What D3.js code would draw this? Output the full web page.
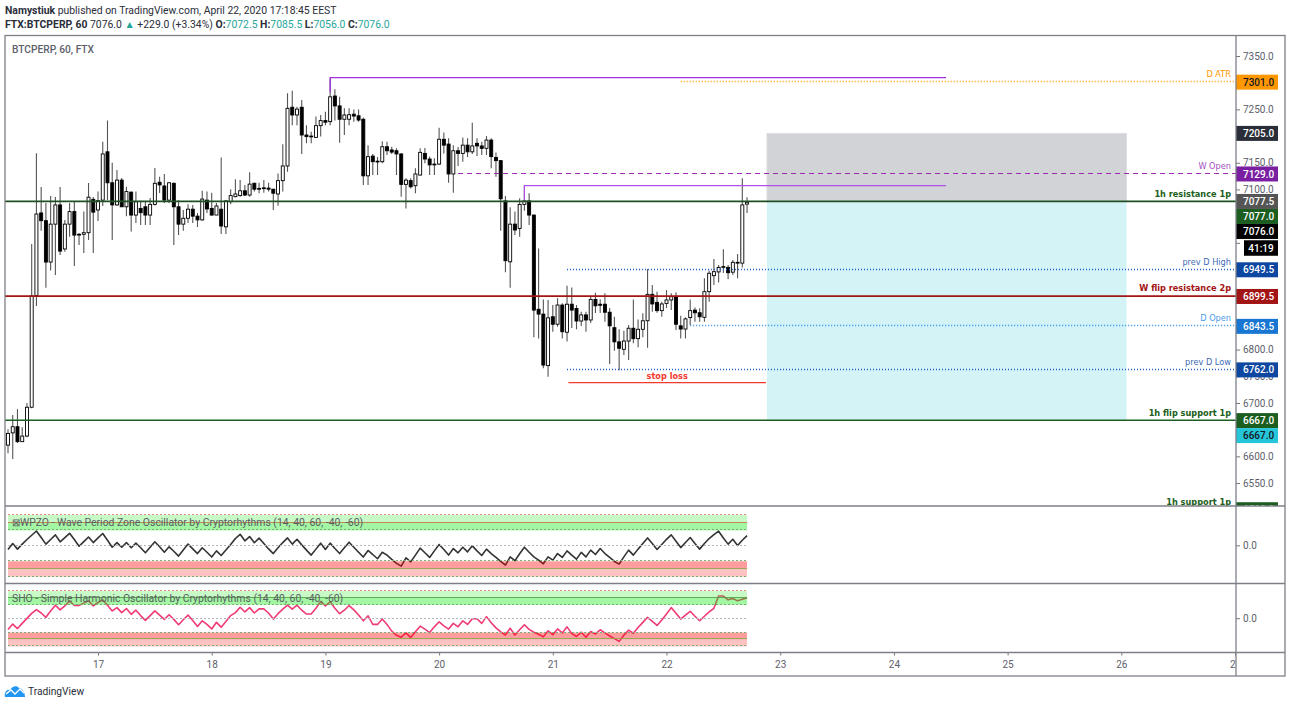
<!DOCTYPE html>
<html>
<head>
<meta charset="utf-8">
<title>BTCPERP, 60, FTX</title>
<script src="https://cdn.jsdelivr.net/npm/d3@7/dist/d3.min.js"></script>
<style>
  html, body { margin: 0; padding: 0; background: #fff; }
  svg { display: block; }
  text { font-family: Roboto, sans-serif; }
</style>
</head>
<body>
<svg id="chart" width="1290" height="706"></svg>
<script>
// Hourly FTX BTC-PERP candles
const opens = [
  6621,6644,6655.5,6627.5,6638,6692,6901.5,7056,7041.5,6964,
  7035,7071,6988.5,7035,7058.5,7014.5,7016,7019,7081.5,7061.5,
  7080,7170.5,7112.5,7071,7117.5,7067.5,7095,7052,7064.5,7067.5,
  7052,7072,7113.5,7106.5,7080,7111.5,7067.5,7035,7046,7063,
  7050,7043,7080,7064.5,7052,7063,7030,7077,7086.5,7088.5,
  7097.5,7089.5,7111.5,7102,7103,7102.5,7100.5,7091.5,7116.5,7144,
  7254,7239.5,7254,7202,7200,7197.5,7219.5,7229,7227,7275,
  7256.5,7231.5,7231.5,7241,7238,7231.5,7125.5,7162.5,7153,7152,
  7180,7174,7172.5,7166.5,7109.5,7116.5,7107,7127,7167.5,7157,
  7147.5,7147.5,7194,7185,7129,7172.5,7167.5,7183,7170.5,7186.5,
  7181.5,7177,7192.5,7160,7154,7078.5,6964.5,7035,7027,7072,
  7078.5,7052,6875.5,6866.5,6770,6861.5,6847.5,6883.5,6832.5,6885,
  6877,6853.5,6865,6855.5,6894,6885,6885,6870,6841,6814.5,
  6800.5,6816,6840,6820.5,6838,6854,6903.5,6888.5,6873,6886.5,
  6893,6899,6844.5,6838.5,6860,6874,6869,6860.5,6908.5,6938.5,
  6945.5,6954,6954,6945,6963.5,6962,7072.5
];
const highs = [
  6651,6677.5,6688.5,6654.5,6700,6998,7168,7104.5,7074.5,7087.5,
  7086,7104.5,7043,7074.5,7077,7018.5,7058.5,7112,7086,7096,
  7189.5,7229,7150,7136.5,7121.5,7105,7096,7096,7079,7077,
  7084,7140,7124,7129,7114,7113,7080,7061.5,7072.5,7071,
  7056,7097.5,7096,7094,7074.5,7160,7080,7100.5,7119,7117.5,
  7108.5,7132,7113,7112.5,7117.5,7112.5,7101,7130,7184.5,7280,
  7285,7255,7267.5,7220.5,7208,7236.5,7239.5,7245.5,7308,7287.5,
  7273.5,7252,7252,7250,7250,7235,7183,7166.5,7161,7190.5,
  7189.5,7180,7177,7168,7121,7121,7139.5,7177,7177.5,7161.5,
  7158.5,7215.5,7206.5,7196,7183,7179.5,7197.5,7196,7225,7196,
  7189.5,7200,7196,7169,7155,7087.5,7066.5,7058.5,7083.5,7106.5,
  7093,7053,6989.5,6894,6893,6883.5,6896,6887,6919.5,6916.5,
  6883.5,6871,6871,6900.5,6906.5,6894.5,6905.5,6878,6861.5,6838,
  6835.5,6846,6894,6856.5,6868,6951,6921,6908.5,6889.5,6911.5,
  6905.5,6907.5,6863.5,6860.5,6894,6879,6877.5,6933.5,6948,6969.5,
  6958.5,6988,6958.5,6968,6979,7121,7085.5
];
const lows = [
  6606,6595,6625,6627,6636,6690,6881.5,7022.5,6916,6948,
  6939.5,6977,6983.5,7011.5,6956.5,6996,6981,7005.5,6981,7041,
  7069,7080,7005.5,7069,7067,7050,7021,7037,7033.5,7033.5,
  7033.5,7070,7093.5,7074.5,7074.5,6996,7014.5,7022.5,7037,7037,
  7029.5,7041.5,7056,7051,7052,7016.5,7016.5,7072.5,7085.5,7086.5,
  7087.5,7086.5,7096,7093,7094,7096,7061.5,7069.5,7096,7133,
  7220.5,7220.5,7166.5,7186.5,7186.5,7197,7199,7220.5,7220.5,7229,
  7187.5,7202,7220.5,7227,7227,7108.5,7108.5,7127,7127,7149,
  7164.5,7166.5,7127,7086.5,7064.5,7102,7093,7126,7149,7127,
  7127,7146,7167.5,7112.5,7094,7144,7152,7161,7166.5,7162.5,
  7164.5,7164.5,7139.5,7124,7022.5,6945,6916,7014.5,7011.5,7060,
  7033.5,6823,6821,6765,6749,6833.5,6843,6821,6815,6840.5,
  6838,6844,6833.5,6850,6868.5,6868.5,6852,6773,6798,6761.5,
  6790,6780.5,6812,6804.5,6823,6803.5,6871,6869,6861.5,6878,
  6874,6836.5,6821,6821,6846,6852,6852,6852,6889.5,6921,
  6925.5,6943.5,6932,6939.5,6933.5,6954,7056
];
const closes = [
  6643,6655.5,6627.5,6638,6692,6900.5,7054,7041.5,6964,7035,
  7071,6984.5,7035,7058.5,7014.5,7016,7019,7085.5,7057.5,7079,
  7166.5,7112.5,7071,7117.5,7067.5,7096,7052,7077,7056.5,7052,
  7072,7111.5,7108.5,7080,7112.5,7067.5,7035,7046,7063,7050,
  7043,7082,7063.5,7052,7069,7031.5,7078.5,7088.5,7091.5,7097.5,
  7089.5,7110,7100.5,7100.5,7101.5,7100.5,7093,7116.5,7144,7252,
  7239.5,7250.5,7202,7199,7198.5,7219.5,7229,7226,7273.5,7256.5,
  7231.5,7239.5,7240,7237.5,7230,7125.5,7161.5,7152,7151.5,7180,
  7172.5,7170,7166.5,7109.5,7117.5,7105,7129,7169.5,7157,7146,
  7146,7194,7183,7129,7172.5,7167.5,7183,7170.5,7181.5,7181.5,
  7177,7192.5,7161.5,7154,7082.5,6966.5,7035,7024,7072,7078.5,
  7052,6874,6866.5,6771,6859.5,6847.5,6883.5,6833.5,6885,6874,
  6853.5,6865,6855.5,6894,6882,6883,6870,6844.5,6814.5,6802.5,
  6816,6840,6820.5,6838,6854,6903.5,6885.5,6873,6885.5,6893,
  6899,6847.5,6838.5,6857.5,6873,6869,6861.5,6908.5,6943,6946,
  6954,6955.5,6944,6963.5,6962,7071,7076
];

// Oscillator readings, one per bar
const wpzo = [
  -9.5,6,-8.5,4.5,16.5,27.5,38.5,21.5,4.5,16.5,
  28.5,10.5,21.5,32.5,16.5,-1,11,23,8.5,20.5,
  32,14.5,-3.5,8.5,-3.5,8.5,-5,7,-5,-18,
  -3.5,10.5,-2.5,-16.5,-2.5,-14,-26.5,-11,4.5,-8,
  -20,-5,-16.5,-29,-13,-25,-11,3.5,19,30,
  13,24,8,20,6,-8,-20,-5,8.5,20.5,
  4.5,17,2.5,-11,-24,-8.5,7,-9.5,7,-7,
  -20,-5,9.5,-3.5,-16.5,-29,-12,-22.5,-33.5,-16.5,
  -24,-35,-45.5,-52.5,-31,-41.5,-24,-6,-18,-30,
  -13,3.5,-9.5,-24,-7,-18,-3.5,-15.5,0,-13,
  -25,-8.5,-20,-30,-40.5,-50,-28.5,-38.5,-20.5,-3.5,
  -16.5,-28.5,-37,-46.5,-28.5,-37,-20,-30,-13,-24,
  -34.5,-17,-28.5,-11,-22.5,-7,-20,-30,-40.5,-47.5,
  -28.5,-11,-24,-8.5,6,20.5,6,-9.5,3.5,17,
  28.5,12,-4.5,8.5,21.5,6,-8.5,6,19,29,
  38,20.5,4.5,17,1,14.5,26.5
];
const sho = [
  -31,-15.5,-28.5,-13.5,1,15.5,26.5,16.5,4,22.5,
  39,25.5,37,51.5,38,38,45,51.5,37,47,
  54.5,39,22.5,32,17.5,29.5,12.5,24.5,9,-5,
  9,22.5,10.5,-2,11.5,-2,-17.5,-3,10.5,-5,
  -22.5,-6,-16.5,-29.5,-10.5,-24.5,-8,9,17.5,33,
  19.5,32,16.5,28.5,28.5,16.5,-1,14.5,27.5,39,
  27.5,39,24.5,13.5,13.5,30,50,37,49,30,
  14.5,24.5,38,25.5,10.5,-6,8,-16.5,-16.5,-1,
  -16.5,-36,-48,-53.5,-41,-54.5,-38,-21.5,-30,-40,
  -23.5,-9,-20.5,-30,-13.5,-23.5,-6,-16.5,0,0,
  -13.5,6,-11.5,-26.5,-38,-47,-27.5,-47,-32,-17.5,
  -31,-39,-45,-52.5,-35,-46,-29.5,-41,-23.5,-43,
  -51.5,-39,-53.5,-37,-44,-32,-41,-50,-57.5,-65.5,
  -48,-33,-42,-25.5,-10.5,4,-8,-19.5,-4,13.5,
  32,15.5,-1,10.5,21.5,7,-6,7,19.5,30,
  65.5,65.5,54.5,58.5,51.5,56.5,60.5
];

const priceTicks = d3.range(6500, 7351, 50);
const dayLabelFormat = d3.utcFormat("%-d");
const lastLabels = { open: 7072.5, high: 7085.5, low: 7056.0, close: 7076.0 };

// Bars count from 16 April 05:00 UTC
const firstBar = Date.UTC(2020, 3, 16, 5);
const hour = 3600e3;
const barTime = i => new Date(firstBar + i * hour);

// Horizontal levels and their price tags
const levels = [
  { price: 7301,   name: "D ATR",              color: "#ff9800", from: 142,  dash: "1 2", w: 1.3, tag: "#ff9800", ink: "#131722" },
  { price: 7129,   name: "W Open",             color: "#9c27b0", text: "#a050c0", from: 95, dash: "5 4", w: 1.05, tag: "#7b1fa2", ink: "#fff" },
  { price: 7077,   name: "1h resistance 1p",   color: "#1b5e20", bold: true, from: -2,    w: 1.8, tag: "#1b5e20", ink: "#fff" },
  { price: 6949.5, name: "prev D High",        color: "#1e5cc8", text: "#3e69b5", from: 118, dash: "1 2", w: 1.3, tag: "#0d47a1", ink: "#fff" },
  { price: 6899.5, name: "W flip resistance 2p", color: "#a31515", bold: true, from: -2,  w: 1.8, tag: "#a31515", ink: "#fff" },
  { price: 6843.5, name: "D Open",             color: "#2a8ce8", text: "#4a9be8", from: 144, dash: "1 2", w: 1.3, tag: "#1976d2", ink: "#fff" },
  { price: 6762,   name: "prev D Low",         color: "#1e5cc8", text: "#3e69b5", from: 118, dash: "1 2", w: 1.3, tag: "#0d47a1", ink: "#fff" },
  { price: 6667,   name: "1h flip support 1p", color: "#1b5e20", bold: true, from: -2,    w: 1.6, tag: "#1b5e20", ink: "#fff" },
  { price: 6500,   name: "1h support 1p",      color: "#1b5e20", bold: true, from: -2,    w: 1.6, tag: "#1b5e20", ink: "#fff" }
];
const extraTags = [
  { price: 7205,   bg: "#2a2e39", ink: "#fff" },
  { price: 7077.5, bg: "#555555", ink: "#fff" },
  { price: 7076,   bg: "#000000", ink: "#fff" },
  { price: 6667,   bg: "#26c6da", ink: "#131722", after: true }
];
const countdown = "41:19";

// Long position drawing
const position = { fromBar: 160.2, toBar: 236.1, stop: 7205, entry: 7077.5, target: 6667 };

// Manual swing-high rays and stop marker
const rays = [
  { bar: 68,  price: 7308.5, wickPrice: 7282, toBar: 198, color: "#a22ee0" },
  { bar: 109, price: 7106.5, wickPrice: 7080, toBar: 198, color: "#b050e8" }
];
const stopLine = { fromBar: 118.3, toBar: 160, price: 6738, text: "stop loss" };

// Oscillator band levels
const bandSteps = [80, 60, 40, 0, -40, -60, -80];

const frame = { left: 5, right: 1285, top: 35.5, bottom: 676, axis: 1236, pane1: 506, pane2: 583.5, pane3: 652.5 };

const x = d3.scaleTime()
  .domain([barTime(0), barTime(156)])
  .range([8, 8 + 156 * 4.7375]);
const y = d3.scaleLinear().domain([6500, 7350]).range([509.73, 56]);
const yWpzo = d3.scaleLinear().domain([-80, 80]).range([576.7, 515]);
const ySho = d3.scaleLinear().domain([-80, 80]).range([646.4, 591]);
const crisp = v => Math.round(v) - 0.5;

const svg = d3.select("#chart");
const defs = svg.append("defs");
defs.append("clipPath").attr("id", "mainClip").append("rect")
  .attr("x", frame.left).attr("y", frame.top).attr("width", frame.axis - frame.left).attr("height", frame.pane1 - frame.top);
defs.append("clipPath").attr("id", "tagClip").append("rect")
  .attr("x", frame.axis).attr("y", frame.top).attr("width", frame.right - frame.axis).attr("height", frame.pane1 - frame.top);
defs.append("clipPath").attr("id", "timeClip").append("rect")
  .attr("x", frame.left).attr("y", frame.pane3).attr("width", frame.axis - frame.left).attr("height", frame.bottom - frame.pane3);

// Header
const head1 = svg.append("text").attr("x", 5).attr("y", 14).attr("font-size", 10.4).attr("fill", "#2a2e39");
head1.append("tspan").attr("font-weight", 700).text("Namystiuk");
head1.append("tspan").text(" published on TradingView.com, April 22, 2020 17:18:45 EEST");
const head2 = svg.append("text").attr("x", 5).attr("y", 28).attr("font-size", 10.4).attr("fill", "#2a2e39");
const teal = "#26a69a";
const f1 = d3.format(".1f");
head2.append("tspan").attr("font-weight", 700).text("FTX:BTCPERP, 60 ");
head2.append("tspan").text(` ${f1(lastLabels.close)} `);
head2.append("tspan").attr("fill", teal).text("▲");
head2.append("tspan").text(" +229.0 (+3.34%) ");
[["O:", lastLabels.open], ["H:", lastLabels.high], ["L:", lastLabels.low], ["C:", lastLabels.close]].forEach(([k, v]) => {
  head2.append("tspan").attr("font-weight", 700).text(k);
  head2.append("tspan").attr("fill", teal).text(f1(v) + " ");
});

// Main pane
const main = svg.append("g").attr("clip-path", "url(#mainClip)");
const px0 = x(barTime(position.fromBar)), px1 = x(barTime(position.toBar));
main.append("rect").attr("x", px0).attr("width", px1 - px0)
  .attr("y", y(position.stop)).attr("height", y(position.entry) - y(position.stop))
  .attr("fill", "#d2d3d6").attr("stroke", "#dcdde0").attr("stroke-width", 1);
main.append("rect").attr("x", px0).attr("width", px1 - px0)
  .attr("y", y(position.entry)).attr("height", y(position.target) - y(position.entry))
  .attr("fill", "#d3f3f7");

main.append("text").attr("x", 12).attr("y", 53).attr("font-size", 10.2).attr("font-weight", 500)
  .attr("fill", "#5d606b").text("BTCPERP, 60, FTX");

// Candles
const candles = d3.range(opens.length).map(i => ({ i, o: opens[i], h: highs[i], l: lows[i], c: closes[i] }));
const candle = main.append("g").selectAll("g").data(candles).join("g");
candle.append("line")
  .attr("x1", d => x(barTime(d.i))).attr("x2", d => x(barTime(d.i)))
  .attr("y1", d => y(d.h)).attr("y2", d => y(d.l))
  .attr("stroke", "#555").attr("stroke-width", 1.1);
candle.append("rect")
  .attr("x", d => x(barTime(d.i)) - 1.5).attr("width", 3)
  .attr("y", d => y(Math.max(d.o, d.c)))
  .attr("height", d => Math.max(0.8, Math.abs(y(d.o) - y(d.c))))
  .attr("fill", d => d.c >= d.o ? "#fff" : "#000")
  .attr("stroke", "#000").attr("stroke-width", 0.9);

// Level lines and their captions
levels.forEach(l => {
  const start = x(barTime(l.from));
  const ly = l.dash ? crisp(y(l.price)) : y(l.price) - 0.4;
  const line = main.append("line")
    .attr("x1", start).attr("x2", frame.axis)
    .attr("y1", ly).attr("y2", ly)
    .attr("stroke", l.color).attr("stroke-width", l.w);
  if (l.dash) line.attr("stroke-dasharray", l.dash);
  main.append("text").attr("x", 1231).attr("y", y(l.price) - 5)
    .attr("text-anchor", "end")
    .style("font-family", "'DejaVu Sans'")
    .attr("font-size", 8.2)
    .attr("font-weight", l.bold ? 700 : 400)
    .attr("fill", l.text || l.color).text(l.name);
});
// Entry line of the position, dotted on top of the 1h resistance
main.append("line").attr("x1", frame.left).attr("x2", frame.axis)
  .attr("y1", y(position.entry)).attr("y2", y(position.entry))
  .attr("stroke", "#333").attr("stroke-width", 1).attr("stroke-dasharray", "1 1");

// Swing rays
rays.forEach(r => {
  const rx = x(barTime(r.bar));
  main.append("path")
    .attr("d", d3.line()([[rx, y(r.wickPrice)], [rx, crisp(y(r.price))], [x(barTime(r.toBar)), crisp(y(r.price))]]))
    .attr("fill", "none").attr("stroke", r.color).attr("stroke-width", 1.25);
});

// Stop marker
main.append("line")
  .attr("x1", x(barTime(stopLine.fromBar))).attr("x2", x(barTime(stopLine.toBar)))
  .attr("y1", y(stopLine.price)).attr("y2", y(stopLine.price))
  .attr("stroke", "#f23a30").attr("stroke-width", 1.3);
main.append("text")
  .attr("x", x(barTime((stopLine.fromBar + stopLine.toBar) / 2))).attr("y", y(stopLine.price) - 4)
  .attr("text-anchor", "middle").style("font-family", "'DejaVu Sans'")
  .attr("font-size", 8.2).attr("font-weight", 700).attr("fill", "#f23a30").text(stopLine.text);

// Oscillator panes: line first, translucent bands above it
function oscillator(values, scale, title, lineColor, mid) {
  const g = svg.append("g");
  const line = d3.line().x((d, i) => x(barTime(i))).y(d => scale(d));
  g.append("path").attr("d", line(values)).attr("fill", "none")
    .attr("stroke", lineColor).attr("stroke-width", 1.6).attr("stroke-linejoin", "round");
  const xa = x(barTime(0)), xb = x(barTime(156));
  const bands = [
    [80, 60, "rgba(0,230,0,0.22)"], [60, 40, "rgba(0,230,0,0.36)"],
    [-40, -60, "rgba(255,0,0,0.38)"], [-60, -80, "rgba(255,0,0,0.24)"]
  ];
  bands.forEach(([a, b, fill]) => {
    g.append("rect").attr("x", xa).attr("width", xb - xa)
      .attr("y", scale(a)).attr("height", scale(b) - scale(a)).attr("fill", fill);
  });
  bandSteps.forEach(v => {
    const solid = v === 60 || v === -60;
    const stroke = v === 80 ? "#e88a78" : v === 60 ? mid : v === 0 ? "#b5b5b5" : solid ? "#90a850" : "#78b070";
    const ln = g.append("line").attr("x1", xa).attr("x2", xb)
      .attr("y1", crisp(scale(v))).attr("y2", crisp(scale(v))).attr("stroke", stroke).attr("stroke-width", solid ? 0.9 : 1);
    if (!solid) ln.attr("stroke-dasharray", "2 2");
  });
  g.append("text").attr("x", 12).attr("y", scale(60) + 3.6).attr("font-size", 10.4)
    .attr("fill", "#5a5d64").text(title);
}
oscillator(wpzo, yWpzo, "⊠WPZO - Wave Period Zone Oscillator by Cryptorhythms (14, 40, 60, -40, -60)", "#333", "#c87a45");
oscillator(sho, ySho, "SHO - Simple Harmonic Oscillator by Cryptorhythms (14, 40, 60, -40, -60)", "#ef3b73", "#58a048");

// Price tags, pushed down when they would overlap
const tagItems = [
  ...levels.map(l => ({ price: l.price, bg: l.tag, ink: l.ink, order: 1 })),
  ...extraTags.map(t => ({ price: t.price, bg: t.bg, ink: t.ink, order: t.after ? 2 : (t.price === 7077.5 ? 0 : 1) }))
].sort((a, b) => b.price - a.price || a.order - b.order);
let cursor = -Infinity;
const tagH = 15;
tagItems.forEach(t => {
  const cy = Math.max(y(t.price), cursor + tagH);
  t.cy = cy;
  cursor = cy;
});
const tagCountdownAfter = tagItems.find(t => t.price === 7076);
const countdownY = tagCountdownAfter.cy + 16.5;

// Price axis; a label lying wholly under a tag is left out
const axisG = svg.append("g").attr("clip-path", "url(#tagClip)");
const priceAxis = d3.axisRight(y).tickValues(priceTicks).tickSize(4).tickPadding(3).tickFormat(f1);
const priceG = axisG.append("g").attr("transform", `translate(${frame.axis},0)`).call(priceAxis);
priceG.select(".domain").remove();
priceG.selectAll("line").attr("stroke", "#777");
priceG.selectAll("text").attr("font-size", 10).attr("fill", "#5d606b").style("font-family", "Roboto")
  .filter(d => y(d) > frame.pane1 - 6
    || tagItems.some(t => Math.abs(y(d) - t.cy) < 6)
    || Math.abs(y(d) - countdownY) < 6)
  .remove();

const tags = axisG.append("g").selectAll("g").data(tagItems).join("g")
  .attr("transform", d => `translate(${frame.axis},${d.cy})`);
tags.append("rect").attr("y", -tagH / 2).attr("width", 42).attr("height", tagH).attr("fill", d => d.bg);
tags.append("text").attr("x", 7).attr("y", 3.6).attr("font-size", 10).attr("font-weight", 500)
  .style("font-family", "Roboto").attr("fill", d => d.ink).text(d => f1(d.price));
axisG.append("rect").attr("x", 1244).attr("y", countdownY - 7.7).attr("width", 34).attr("height", 15.5).attr("fill", "#000");
axisG.append("text").attr("x", 1261).attr("y", countdownY + 3.6).attr("text-anchor", "middle")
  .attr("font-size", 10).attr("font-weight", 500).style("font-family", "Roboto").attr("fill", "#fff").text(countdown);

// Zero ticks on the oscillator scales
[[yWpzo], [ySho]].forEach(([s]) => {
  svg.append("line").attr("x1", frame.axis).attr("x2", frame.axis + 4).attr("y1", s(0)).attr("y2", s(0)).attr("stroke", "#777");
  svg.append("text").attr("x", frame.axis + 7).attr("y", s(0) + 3.6).attr("font-size", 10)
    .style("font-family", "Roboto").attr("fill", "#5d606b").text("0.0");
});

// Time axis
const timeG = svg.append("g").attr("clip-path", "url(#timeClip)")
  .append("g").attr("transform", `translate(0,${frame.pane3})`)
  .call(d3.axisBottom(x.copy()).tickValues(d3.utcDay.range(new Date(Date.UTC(2020, 3, 17)), new Date(Date.UTC(2020, 3, 28))))
    .tickFormat(dayLabelFormat).tickSize(3).tickPadding(5));
timeG.select(".domain").remove();
timeG.selectAll("line").attr("stroke", "#777");
timeG.selectAll("text").attr("font-size", 10).attr("fill", "#5d606b").style("font-family", "Roboto");

// Frame
const frameColor = "#7e8088";
svg.append("rect").attr("x", frame.left).attr("y", frame.top)
  .attr("width", frame.right - frame.left).attr("height", frame.bottom - frame.top)
  .attr("fill", "none").attr("stroke", frameColor).attr("stroke-width", 1.3);
[frame.pane1, frame.pane2, frame.pane3].forEach(py => {
  svg.append("line").attr("x1", frame.left).attr("x2", frame.right).attr("y1", py).attr("y2", py)
    .attr("stroke", frameColor).attr("stroke-width", 1.3);
});
svg.append("line").attr("x1", frame.axis).attr("x2", frame.axis).attr("y1", frame.top).attr("y2", frame.bottom)
  .attr("stroke", frameColor).attr("stroke-width", 1.3);

// Brand mark
svg.append("path")
  .attr("d", "M5 697 C4 692 7 689 10 690 C12 686 17 685 19 688 C22 688 25 692 25 697 Z")
  .attr("fill", "#2196f3");
svg.append("path").attr("d", "M6 694 L11 690 L15 694 L20 689 L24 693")
  .attr("fill", "none").attr("stroke", "#fff").attr("stroke-width", 1.4);
svg.append("text").attr("x", 28).attr("y", 695).attr("font-size", 10.2).attr("fill", "#2a2e39").text("TradingView");
</script>
</body>
</html>
